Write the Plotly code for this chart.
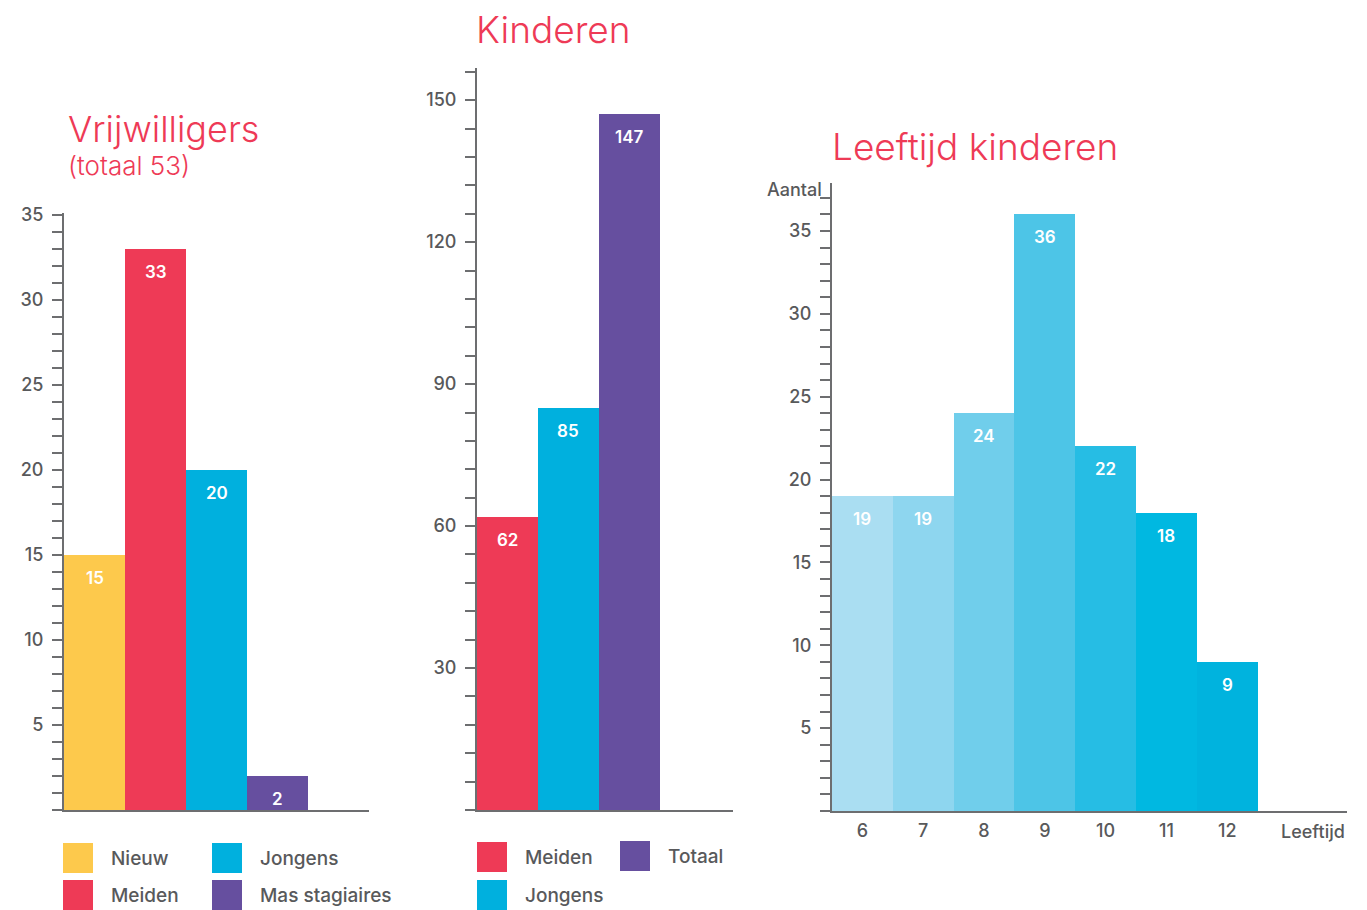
import plotly.graph_objects as go

# data
vrij_cats = ['Nieuw', 'Meiden', 'Jongens', 'Mas stagiaires']
vrij_vals = [15, 33, 20, 2]
vrij_colors = ['#FDC94C', '#EE3A56', '#00B0DE', '#664F9F']

kind_cats = ['Meiden', 'Jongens', 'Totaal']
kind_vals = [62, 85, 147]
kind_colors = ['#EE3A56', '#00B0DE', '#664F9F']

age_cats = ['6', '7', '8', '9', '10', '11', '12']
age_vals = [19, 19, 24, 36, 22, 18, 9]
age_colors = ['#AADEF2', '#8ED6EF', '#70CEEB', '#4DC5E7', '#26BDE4', '#00B8E1', '#00B3DE']

W, H = 1367, 910
GRAY = '#6D6E70'
TXT = '#58595B'
PINK = '#EE3A56'
FONT = 'Inter'


def px(x):
    return x / W


def py(y):
    return 1 - y / H


fig = go.Figure()

panels = [
    (vrij_cats, vrij_vals, vrij_colors, 'x', 'y'),
    (kind_cats, kind_vals, kind_colors, 'x2', 'y2'),
    (age_cats, age_vals, age_colors, 'x3', 'y3'),
]
for cats, vals, cols, xa, ya in panels:
    fig.add_trace(go.Bar(x=cats, y=vals, marker=dict(color=cols, line=dict(width=0)),
                         xaxis=xa, yaxis=ya, showlegend=False, hoverinfo='x+y'))
    # value labels inside the top of each bar (x given as category index)
    for i, v in enumerate(vals):
        fig.add_annotation(x=i, y=v, xref=xa, yref=ya, text=str(v), showarrow=False,
                           yanchor='top', yshift=-11,
                           font=dict(family=FONT, size=17, color='white', weight=600))

axis_common = dict(showline=True, linecolor=GRAY, linewidth=2, zeroline=False, showgrid=False,
                   fixedrange=True, automargin=False)
yaxis_common = dict(axis_common, ticks='outside', ticklen=10, tickwidth=2, tickcolor=GRAY,
                    ticklabelstandoff=5,
                    tickfont=dict(family=FONT, size=18, color=TXT, weight=500))

fig.update_layout(
    width=W, height=H, margin=dict(l=0, r=0, t=0, b=0, autoexpand=False),
    plot_bgcolor='white', paper_bgcolor='white', bargap=0,
    font=dict(family=FONT, color=TXT),
    xaxis=dict(axis_common, domain=[px(64), px(369)], range=[-0.5, 4.5], showticklabels=False, anchor='y'),
    yaxis=dict(yaxis_common, domain=[py(810), py(213)], range=[0, 35.1],
               tickvals=[5, 10, 15, 20, 25, 30, 35],
               minor=dict(dtick=1, tick0=0, ticks='outside', ticklen=10, tickwidth=2, tickcolor=GRAY),
               anchor='x'),
    xaxis2=dict(axis_common, domain=[px(477), px(733)], range=[-0.5, 3.7], showticklabels=False, anchor='y2'),
    yaxis2=dict(yaxis_common, domain=[py(810), py(68)], range=[0, 156.8],
                tickvals=[30, 60, 90, 120, 150],
                minor=dict(dtick=6, tick0=0, ticks='outside', ticklen=10, tickwidth=2, tickcolor=GRAY),
                anchor='x2'),
    xaxis3=dict(axis_common, domain=[px(832), px(1347)], range=[-0.5, 7.97], anchor='y3',
                ticks='', ticklabelstandoff=2,
                tickfont=dict(family=FONT, size=18, color=TXT, weight=500)),
    yaxis3=dict(yaxis_common, domain=[py(811), py(183)], range=[0, 37.9],
                tickvals=[5, 10, 15, 20, 25, 30, 35],
                minor=dict(dtick=1, tick0=0, ticks='outside', ticklen=10, tickwidth=2, tickcolor=GRAY),
                anchor='x3'),
)

# titles
titles = [
    ('Kinderen', 553, 30, 'center', 37),
    ('Vrijwilligers', 66, 129, 'left', 36),
    ('(totaal 53)', 66, 165, 'left', 26),
    ('Leeftijd kinderen', 830, 147, 'left', 37),
]
for t, x, y, anc, size in titles:
    fig.add_annotation(x=px(x), y=py(y), xref='paper', yref='paper', text=t, showarrow=False,
                       xanchor=anc, yanchor='middle',
                       font=dict(family=FONT, size=size, color=PINK, weight=300))

fig.add_annotation(x=px(824), y=py(189), xref='paper', yref='paper', text='Aantal', showarrow=False,
                   xanchor='right', yanchor='middle', font=dict(family=FONT, size=18, color=TXT, weight=500))
fig.add_annotation(x=px(1313), y=py(831), xref='paper', yref='paper', text='Leeftijd', showarrow=False,
                   xanchor='center', yanchor='middle', font=dict(family=FONT, size=18, color=TXT, weight=500))

# legends (swatch left x, swatch top y, label, color)
legend_items = [
    (63, 843, 'Nieuw', vrij_colors[0]),
    (63, 880, 'Meiden', vrij_colors[1]),
    (212, 843, 'Jongens', vrij_colors[2]),
    (212, 880, 'Mas stagiaires', vrij_colors[3]),
    (477, 842, 'Meiden', kind_colors[0]),
    (477, 880, 'Jongens', kind_colors[1]),
    (620, 841, 'Totaal', kind_colors[2]),
]
for x, y, lab, col in legend_items:
    fig.add_shape(type='rect', xref='paper', yref='paper', x0=px(x), x1=px(x + 30),
                  y0=py(y + 30), y1=py(y), fillcolor=col, line=dict(width=0))
    fig.add_annotation(x=px(x + 46), y=py(y + 15), xref='paper', yref='paper', text=lab, showarrow=False,
                       xanchor='left', yanchor='middle', font=dict(family=FONT, size=19, color=TXT, weight=500))

fig.write_html('out.html', config={'displayModeBar': False},
               post_script="document.body.style.margin='0';")
